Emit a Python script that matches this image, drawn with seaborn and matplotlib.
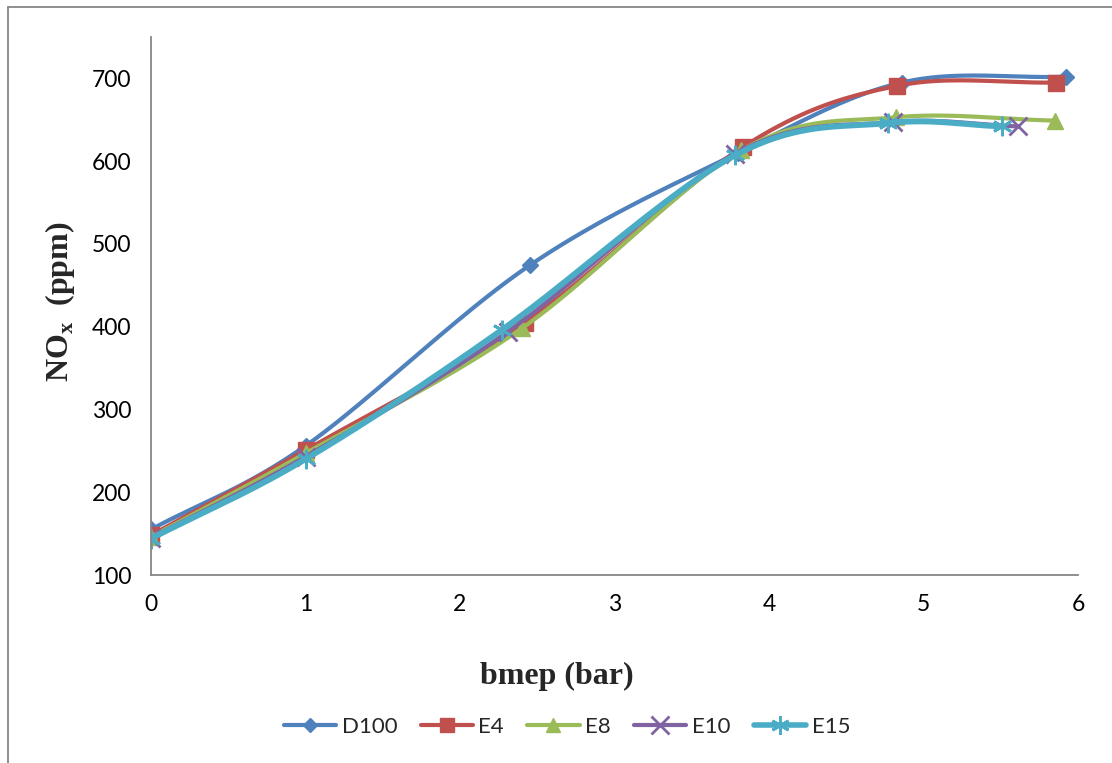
import numpy as np
import pandas as pd
import matplotlib
matplotlib.use("Agg")
import matplotlib.pyplot as plt
from matplotlib.lines import Line2D
import seaborn as sns

# ---- data ----
series_names = ["D100", "E4", "E8", "E10", "E15"]
x_D100 = [0, 1, 2.45, 3.80, 4.86, 5.92]
y_D100 = [155, 256, 474, 610, 695, 702]
x_E4 = [0, 1, 2.42, 3.83, 4.83, 5.86]
y_E4 = [148, 251, 405, 617, 691, 695]
x_E8 = [0, 1, 2.40, 3.82, 4.82, 5.85]
y_E8 = [146, 247, 398, 613, 653, 649]
x_E10 = [0, 1, 2.31, 3.78, 4.80, 5.61]
y_E10 = [145, 243, 394, 609, 647, 642]
x_E15 = [0, 1, 2.27, 3.78, 4.77, 5.51]
y_E15 = [144, 240, 396, 607, 646, 642]
x_ticks = [0, 1, 2, 3, 4, 5, 6]
y_ticks = [100, 200, 300, 400, 500, 600, 700]

xs = [x_D100, x_E4, x_E8, x_E10, x_E15]
ys = [y_D100, y_E4, y_E8, y_E10, y_E15]
colors = ["#4F81BD", "#C0504D", "#9BBB59", "#8064A2", "#4BACC6"]
markers = ["D", "s", "^", "x", (6, 2, 0)]
msizes = [8, 11, 11, 13, 14]
lws = [3.0, 3.0, 3.0, 3.0, 4.2]

sns.set_theme(style="white")
plt.rcParams["font.family"] = ["Lato", "DejaVu Sans"]
plt.rcParams["mathtext.fontset"] = "custom"
plt.rcParams["mathtext.bf"] = "Liberation Serif:bold"
plt.rcParams["mathtext.rm"] = "Liberation Serif:bold"


def smooth(x, y, n=40):
    # parametric Catmull-Rom curve through the data points (Excel-like smoothing)
    P = np.column_stack([x, y]).astype(float)
    P = np.vstack([2 * P[0] - P[1], P, 2 * P[-1] - P[-2]])
    out = []
    for i in range(1, len(P) - 2):
        p0, p1, p2, p3 = P[i - 1], P[i], P[i + 1], P[i + 2]
        t = np.linspace(0, 1, n, endpoint=False)[:, None]
        pts = 0.5 * ((2 * p1) + (-p0 + p2) * t + (2 * p0 - 5 * p1 + 4 * p2 - p3) * t ** 2
                     + (-p0 + 3 * p1 - 3 * p2 + p3) * t ** 3)
        out.append(pts)
    out.append(P[-2][None, :])
    out = np.vstack(out)
    return out[:, 0], out[:, 1]


fig = plt.figure(figsize=(11.12, 7.63), dpi=100)
ax = fig.add_axes([151 / 1112, 1 - 575 / 763, (1078 - 151) / 1112, (575 - 37) / 763])

for name, x, y, c, m, ms, lw in zip(series_names, xs, ys, colors, markers, msizes, lws):
    sx, sy = smooth(x, y)
    df = pd.DataFrame({"x": sx, "y": sy})
    sns.lineplot(data=df, x="x", y="y", sort=False, ax=ax, color=c, lw=lw,
                 solid_capstyle="round", estimator=None)
    mew = 2.0 if m in ("x",) or isinstance(m, tuple) else 1
    ax.plot(x, y, linestyle="none", marker=m, color=c, markersize=ms,
            markeredgewidth=mew, markeredgecolor=c)

ax.set_xlim(0, 6)
ax.set_ylim(100, 750)
ax.set_xticks(x_ticks)
ax.set_yticks(y_ticks)
ax.tick_params(axis="both", labelsize=16.5, colors="#868686", length=6, width=1.3,
               direction="out", labelcolor="black", pad=8)
for s in ["top", "right"]:
    ax.spines[s].set_visible(False)
for s in ["left", "bottom"]:
    ax.spines[s].set_color("#868686")
    ax.spines[s].set_linewidth(1.3)

ax.set_xlabel("")
ax.set_ylabel("")
fig.text(557 / 1112, 1 - 676 / 763, "bmep (bar)", ha="center", va="center",
         fontsize=23, fontweight="bold", family="Liberation Serif")
fig.text(60 / 1112, 1 - 302 / 763, r"NO$_\mathbf{x}$  (ppm)", ha="center", va="center",
         rotation=90, fontsize=23, fontweight="bold", family="Liberation Serif")

handles = [Line2D([0], [0], color=c, lw=lw if lw < 4 else 4, marker=m, markersize=ms * 0.95,
                  markeredgewidth=2 if (m == "x" or isinstance(m, tuple)) else 1,
                  solid_capstyle="round")
           for c, m, ms, lw in zip(colors, markers, msizes, lws)]
fig.legend(handles, series_names, loc="center", bbox_to_anchor=(567 / 1112, 1 - 727 / 763),
           ncol=5, frameon=False, fontsize=16, handlelength=2.35, columnspacing=1.05,
           handletextpad=0.25)

# outer chart border (cropped on right and bottom)
fig.add_artist(Line2D([8 / 1112, 8 / 1112], [0, 1 - 7 / 763], color="#868686", lw=1.3,
                      transform=fig.transFigure))
fig.add_artist(Line2D([8 / 1112, 1], [1 - 7 / 763, 1 - 7 / 763], color="#868686", lw=1.3,
                      transform=fig.transFigure))

fig.savefig("out.png", dpi=100)
